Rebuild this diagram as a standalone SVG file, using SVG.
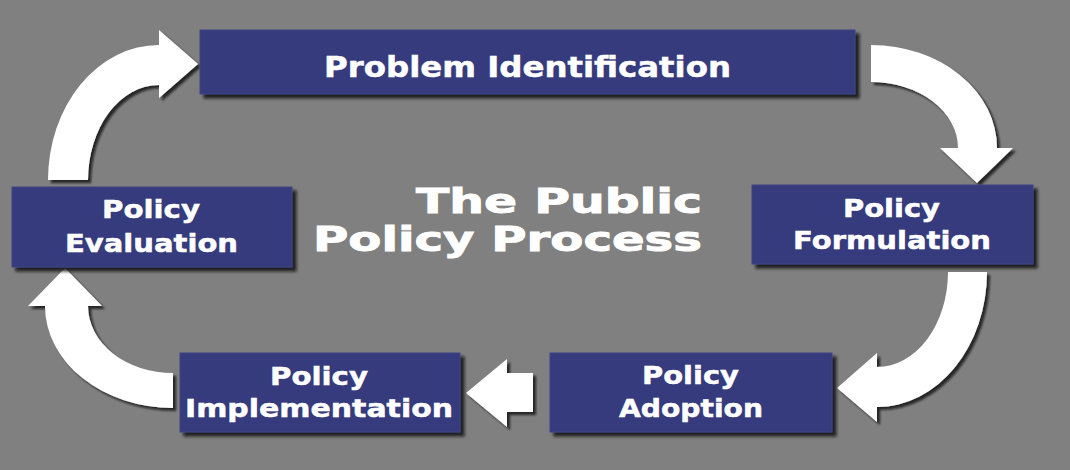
<svg xmlns="http://www.w3.org/2000/svg" width="1070" height="470" viewBox="0 0 1070 470">
  <defs>
    <filter id="shadow" x="-10%" y="-10%" width="130%" height="140%">
      <feDropShadow dx="4" dy="4" stdDeviation="1.5" flood-color="#111" flood-opacity="0.85"/>
    </filter>
    <filter id="ashadow" x="-10%" y="-10%" width="130%" height="130%">
      <feDropShadow dx="3" dy="3" stdDeviation="1.2" flood-color="#111" flood-opacity="0.8"/>
    </filter>
  </defs>
  <style>
    .box { fill: #343b7b; stroke: #3d4585; stroke-width: 1; filter: url(#shadow); }
    .lbl { font-family: "DejaVu Sans", Verdana, sans-serif; font-weight: bold; fill: #ffffff; stroke: #ffffff; stroke-width: 0.5; font-size: 25px; }
    .big { font-size: 29px; }
    .title { font-size: 34px; stroke-width: 0.9; }
    .arrow { fill: #ffffff; filter: url(#ashadow); }
  </style>
  <rect x="0" y="0" width="1070" height="470" fill="#808080"/>

  <g id="connectors">
    <path class="arrow" d="M48,180 A111,135 0 0 1 159,45 L159,30 L198,64 L159,98 L159,85 A71,95 0 0 0 88,180 Z"/>
    <path class="arrow" d="M871,45 A126,103 0 0 1 997,148 L1013,148 L977,183 L940,148 L958,148 A87,66 0 0 0 871,82 Z"/>
    <path class="arrow" d="M987,272 A110,135 0 0 1 877,407 L877,422 L837,388 L877,353 L877,367 A71,95 0 0 0 948,272 Z"/>
    <path class="arrow" d="M533,373 L507,373 L507,359 L466,393 L507,427 L507,412 L533,412 Z"/>
    <path class="arrow" d="M173,408 A128,102 0 0 1 45,306 L28,306 L65,268 L102,306 L88,306 A85,67 0 0 0 173,373 Z"/>
  </g>

  <g id="problem-identification">
    <rect class="box" x="200" y="30" width="655" height="64"/>
    <text class="lbl big" x="324" y="77" textLength="407" lengthAdjust="spacingAndGlyphs">Problem Identification</text>
  </g>

  <g id="policy-formulation">
    <rect class="box" x="752" y="185" width="281" height="79"/>
    <text class="lbl" x="843" y="217" textLength="97" lengthAdjust="spacingAndGlyphs">Policy</text>
    <text class="lbl" x="793" y="249" textLength="198" lengthAdjust="spacingAndGlyphs">Formulation</text>
  </g>

  <g id="policy-adoption">
    <rect class="box" x="550" y="353" width="282" height="79"/>
    <text class="lbl" x="642" y="384" textLength="97" lengthAdjust="spacingAndGlyphs">Policy</text>
    <text class="lbl" x="619" y="417" textLength="144" lengthAdjust="spacingAndGlyphs">Adoption</text>
  </g>

  <g id="policy-implementation">
    <rect class="box" x="180" y="353" width="280" height="79"/>
    <text class="lbl" x="270" y="385" textLength="98" lengthAdjust="spacingAndGlyphs">Policy</text>
    <text class="lbl" x="185" y="417" textLength="268" lengthAdjust="spacingAndGlyphs">Implementation</text>
  </g>

  <g id="policy-evaluation">
    <rect class="box" x="12" y="187" width="280" height="80"/>
    <text class="lbl" x="102" y="218" textLength="98" lengthAdjust="spacingAndGlyphs">Policy</text>
    <text class="lbl" x="65" y="252" textLength="173" lengthAdjust="spacingAndGlyphs">Evaluation</text>
  </g>

  <g id="title">
    <text class="lbl title" x="416" y="213" textLength="286" lengthAdjust="spacingAndGlyphs">The Public</text>
    <text class="lbl title" x="313" y="251" textLength="389" lengthAdjust="spacingAndGlyphs">Policy Process</text>
  </g>
</svg>
